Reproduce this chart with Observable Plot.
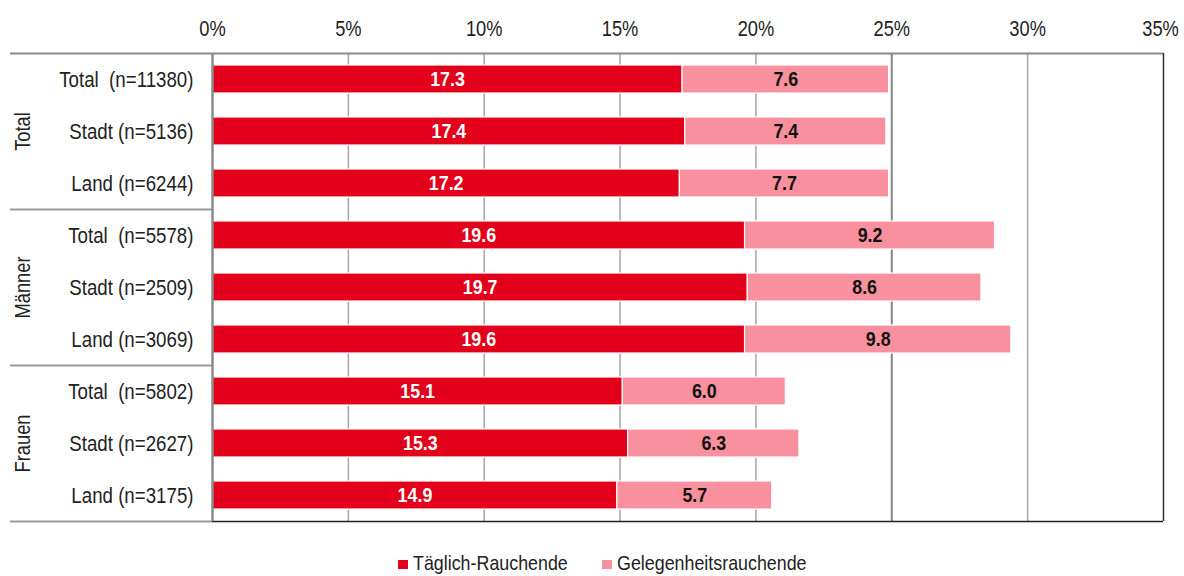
<!DOCTYPE html>
<html>
<head>
<meta charset="utf-8">
<script src="https://cdn.jsdelivr.net/npm/d3@7"></script>
<script src="https://cdn.jsdelivr.net/npm/@observablehq/plot@0.6"></script>
<style>
  html, body { margin: 0; padding: 0; background: #fff; }
  body { width: 1184px; height: 576px; overflow: hidden; font-family: "Liberation Sans", Arial, sans-serif; }
  svg { display: block; }
  svg text { white-space: pre; }
</style>
</head>
<body>
<div id="chart"></div>
<div id="legend"></div>
<script>
const groups = ["Total", "Männer", "Frauen"];
const rowLabels = ["Total  (n=11380)", "Stadt (n=5136)", "Land (n=6244)",
                   "Total  (n=5578)", "Stadt (n=2509)", "Land (n=3069)",
                   "Total  (n=5802)", "Stadt (n=2627)", "Land (n=3175)"];
const rowGroup = [0, 0, 0, 1, 1, 1, 2, 2, 2];
const seriesNames = ["Täglich-Rauchende", "Gelegenheitsrauchende"];
const daily = [17.3, 17.4, 17.2, 19.6, 19.7, 19.6, 15.1, 15.3, 14.9];
const occasional = [7.6, 7.4, 7.7, 9.2, 8.6, 9.8, 6.0, 6.3, 5.7];
const xTicks = [0, 5, 10, 15, 20, 25, 30, 35];
const colors = ["#e2001a", "#f8909e"];

const NARROW = 0.85; // Arial Narrow look from Liberation Sans
const W = 1184, H = 545;
const mL = 212, mR = 21, mT = 53, mB = 24;
const pxPerUnit = (W - mL - mR) / 35;
const leftEdge = -(mL - 10) / pxPerUnit;
const groupLabelX = -(mL - 23) / pxPerUnit;

const rows = rowLabels.map((_, i) => i);
const data = [];
rows.forEach(i => {
  data.push({row: i, series: seriesNames[0], value: daily[i]});
  data.push({row: i, series: seriesNames[1], value: occasional[i]});
});
const groupCenters = groups.map((g, gi) => {
  const rs = rows.filter(r => rowGroup[r] === gi);
  return {group: g, row: rs[Math.floor(rs.length / 2)]};
});
const groupEnds = groups.slice(0, -1).map((g, gi) => {
  const rs = rows.filter(r => rowGroup[r] === gi);
  return rs[rs.length - 1];
});
const bw = (H - mT - mB) / rows.length;

const plot = Plot.plot({
  width: W, height: H,
  marginLeft: mL, marginRight: mR, marginTop: mT, marginBottom: mB,
  style: {fontFamily: '"Liberation Sans", Arial, sans-serif', fontSize: "21.5px", color: "#222", background: "#fff"},
  x: {domain: [0, 35], label: null},
  y: {domain: rows, padding: 0, label: null},
  color: {domain: seriesNames, range: colors},
  marks: [
    Plot.ruleX(xTicks.filter(t => t > 0 && t < 35 && t !== 25), {stroke: "#a6a6a6", strokeWidth: 1.5}),
    Plot.ruleX([25], {stroke: "#858585", strokeWidth: 2}),
    Plot.barX(data, Plot.stackX({x: "value", y: "row", fill: "series", stroke: "#fff", strokeWidth: 1.2, insetTop: 12, insetBottom: 12, order: null})),
    Plot.text(data, Plot.stackX({x: "value", y: "row", text: d => d.value.toFixed(1), fill: d => d.series === seriesNames[0] ? "#fff" : "#111", fontWeight: "bold", fontSize: 21, order: null})),
    Plot.ruleY([rows[0]], {x1: leftEdge, x2: 35, stroke: "#8a8a8a", strokeWidth: 2, dy: -bw / 2}),
    Plot.ruleY(groupEnds, {x1: leftEdge, x2: 0, stroke: "#9a9a9a", strokeWidth: 2, dy: bw / 2}),
    Plot.ruleY([rows[rows.length - 1]], {x1: leftEdge, x2: 0, stroke: "#9a9a9a", strokeWidth: 2, dy: bw / 2}),
    Plot.ruleY([rows[rows.length - 1]], {x1: 0, x2: 35, stroke: "#222", strokeWidth: 1.5, dy: bw / 2}),
    Plot.ruleX([0], {stroke: "#8a8a8a", strokeWidth: 2.5}),
    Plot.ruleX([35], {stroke: "#333", strokeWidth: 1.5}),
    Plot.text(groupCenters, {x: groupLabelX, y: "row", text: "group", rotate: -90, fontSize: 21.5, fill: "#222"}),
    Plot.axisX({anchor: "top", ticks: xTicks, tickSize: 0, tickPadding: 18, tickFormat: d => d + "%", fontSize: 21.5, label: null}),
    Plot.axisY({anchor: "left", tickSize: 0, tickPadding: 19, tickFormat: i => rowLabels[i], fontSize: 22, label: null})
  ]
});
document.getElementById("chart").appendChild(plot);

// legend below the chart
const lg = d3.select("#legend").append("svg").attr("width", W).attr("height", 576 - H)
  .style("font-family", '"Liberation Sans", Arial, sans-serif').style("font-size", "21px");
const legendX = [398, 602];
seriesNames.forEach((s, i) => {
  lg.append("rect").attr("x", legendX[i]).attr("y", 15).attr("width", 10).attr("height", 9).attr("fill", colors[i]);
  lg.append("text").attr("x", legendX[i] + 15).attr("y", 25).attr("fill", "#222").text(s);
});

// condense glyphs horizontally to mimic a narrow face
function narrow(root) {
  root.querySelectorAll("text").forEach(t => {
    const targets = t.querySelectorAll("tspan").length ? t.querySelectorAll("tspan") : [t];
    targets.forEach(el => {
      const L = el.getComputedTextLength();
      if (L > 0) {
        el.setAttribute("textLength", (L * NARROW).toFixed(2));
        el.setAttribute("lengthAdjust", "spacingAndGlyphs");
      }
    });
  });
}
narrow(plot);
narrow(lg.node());
// keep the last tick label inside the page edge
plot.querySelectorAll("text").forEach(t => {
  if (t.textContent === xTicks[xTicks.length - 1] + "%") t.setAttribute("dx", "-3");
});
</script>
</body>
</html>
